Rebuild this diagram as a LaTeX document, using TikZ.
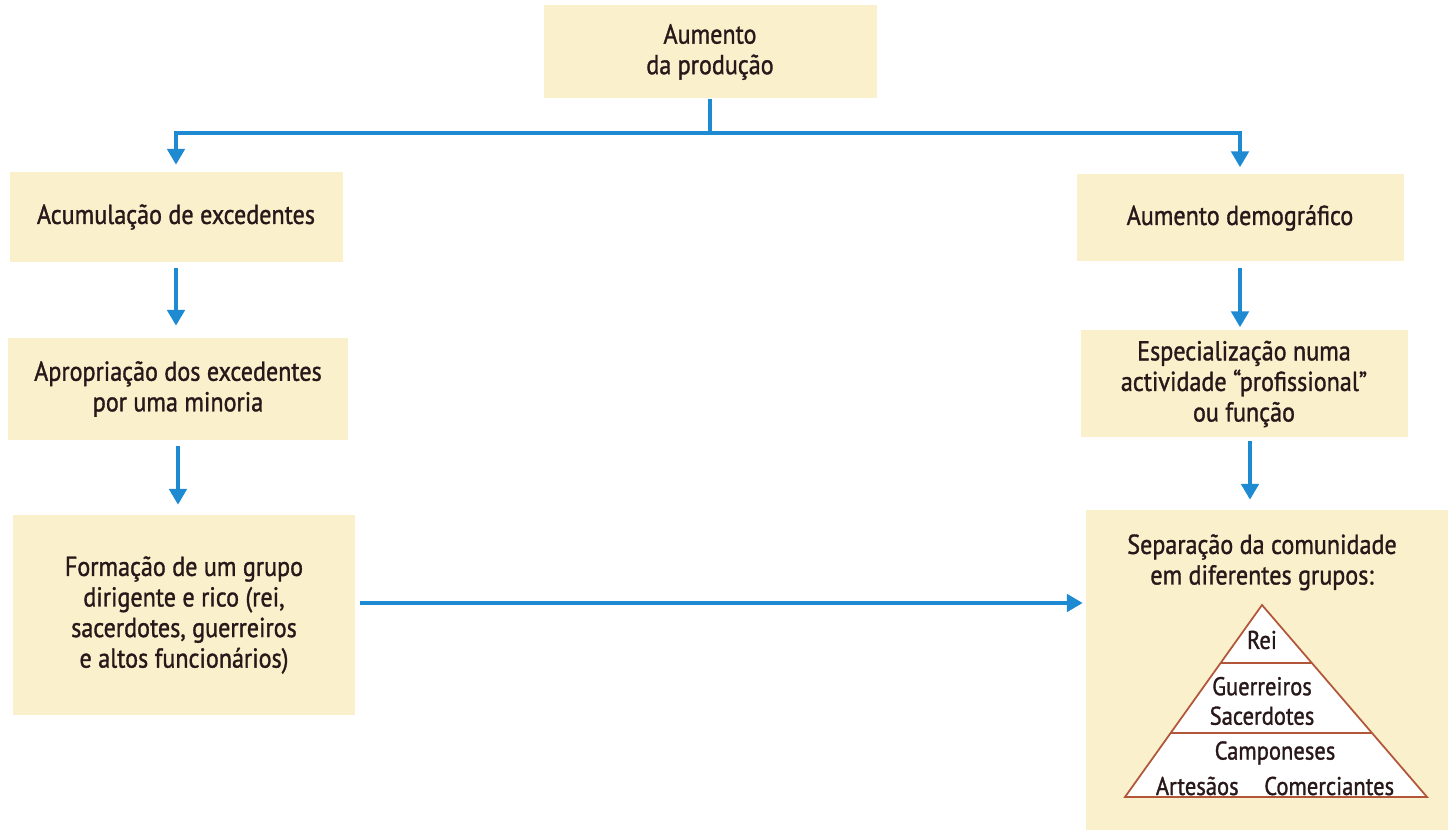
\documentclass[tikz,border=0pt]{standalone}
\usepackage{fontspec}
\setmainfont[FakeStretch=0.88, FakeBold=1.2]{PT Sans}
\usepackage{tikz}
\usetikzlibrary{arrows.meta}
\usepackage{xcolor}
\definecolor{boxfill}{RGB}{251,240,204}
\definecolor{arrowblue}{RGB}{30,138,210}
\definecolor{inkdark}{RGB}{40,24,26}
\definecolor{pyrline}{RGB}{178,86,58}

\begin{document}
\begin{tikzpicture}[
    x=0.02cm, y=-0.02cm,
    box/.style={fill=boxfill, inner sep=0pt, align=center, text=inkdark, font=\fontsize{15.6}{17.4}\selectfont},
    arr/.style={-{Triangle[width=10pt,length=9pt]}, line width=1.9pt, arrowblue},
    layer/.style={draw=pyrline, line width=1pt, fill=white},
    tier/.style={text=inkdark, font=\fontsize{14.6}{16.8}\selectfont, inner sep=1pt}
]
\useasboundingbox (0,0) rectangle (1448,830);

\node[box, minimum width=333*0.02cm, minimum height=93*0.02cm] (producao) at (710, 52) {Aumento\\da produção};

\node[box, minimum width=333*0.02cm, minimum height=90*0.02cm] (acumulacao) at (176, 217) {Acumulação de excedentes};
\node[box, minimum width=340*0.02cm, minimum height=102*0.02cm] (apropriacao) at (178, 389) {Apropriação dos excedentes\\por uma minoria};
\node[box, minimum width=342*0.02cm, minimum height=200*0.02cm] (formacao) at (184, 615) {Formação de um grupo\\dirigente e rico (rei,\\sacerdotes, guerreiros\\e altos funcionários)};

\node[box, minimum width=327*0.02cm, minimum height=87*0.02cm] (demografico) at (1240, 218) {Aumento demográfico};
\node[box, minimum width=327*0.02cm, minimum height=107*0.02cm] (especializacao) at (1244, 384) {Especialização numa\\actividade ``profissional''\\ou função};
\node[box, minimum width=362*0.02cm, minimum height=320*0.02cm] (separacao) at (1267, 670) {};
\node[box, anchor=north] (titulo) at (1262, 534) {Separação da comunidade\\em diferentes grupos:};

\draw[layer] (1262,605) -- (1125,797) -- (1427,797) -- cycle;
\draw[pyrline, line width=1pt] (1220.6,663) -- (1311.8,663);
\draw[pyrline, line width=1pt] (1170.7,733) -- (1372,733);
\node[tier] (rei) at (1262, 640) {Rei};
\node[tier, align=center] (guerreiros) at (1262, 701) {Guerreiros\\Sacerdotes};
\node[tier] (camponeses) at (1275, 753) {Camponeses};
\node[tier] (artesaos) at (1275, 786) {Artesãos\quad Comerciantes};

\coordinate (split) at (710, 133);
\draw[arrowblue, line width=1.9pt] (producao.south) -- (split);
\draw[arr, shorten >=7*0.02cm] (split) -| (acumulacao.north);
\draw[arr, shorten >=7*0.02cm] (split) -| (demografico.north);
\draw[arr, shorten <=6*0.02cm, shorten >=12*0.02cm] (acumulacao.south) -- (acumulacao.south |- apropriacao.north);
\draw[arr, shorten <=6*0.02cm, shorten >=10*0.02cm] (apropriacao.south) -- (apropriacao.south |- formacao.north);
\draw[arr, shorten <=6*0.02cm, shorten >=3*0.02cm] (demografico.south) -- (demografico.south |- especializacao.north);
\draw[arr, shorten <=3*0.02cm, shorten >=10*0.02cm] ([xshift=6*0.02cm]especializacao.south) -- ([xshift=6*0.02cm]especializacao.south |- separacao.north);
\draw[arr, shorten <=5*0.02cm, shorten >=3*0.02cm] ([yshift=12*0.02cm]formacao.east) -- ([yshift=12*0.02cm]formacao.east -| separacao.west);
\end{tikzpicture}
\end{document}
